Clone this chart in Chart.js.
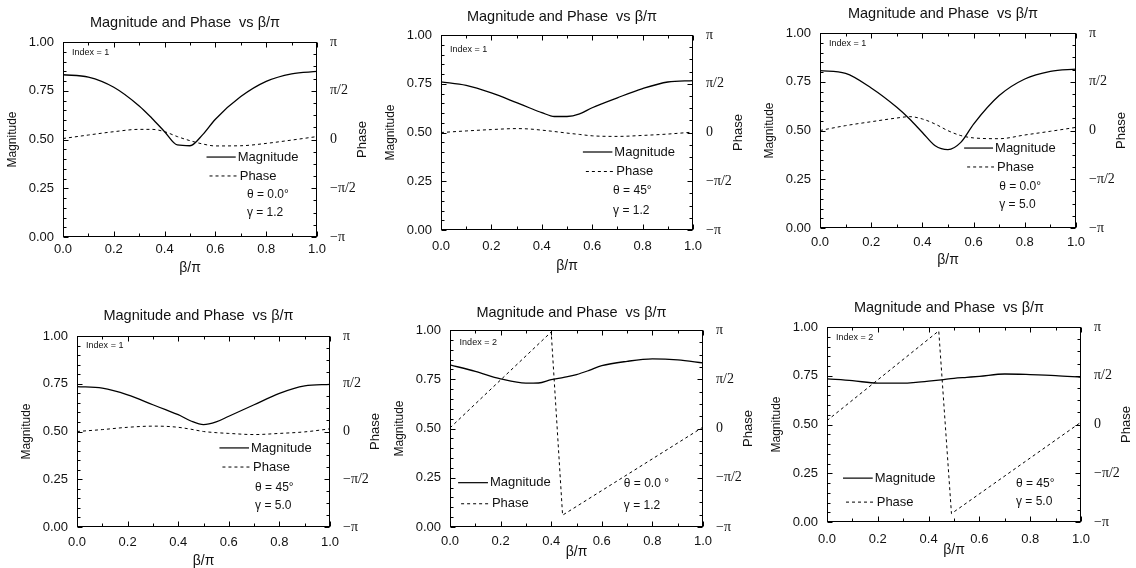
<!DOCTYPE html>
<html lang="en">
<head>
<meta charset="UTF-8">
<title>Magnitude and Phase vs β/π</title>
<script src="https://cdn.jsdelivr.net/npm/chart.js@4"></script>
<style>
  body { margin: 0; background: #fff; width: 1136px; height: 568px; overflow: hidden; position: relative; }
  canvas { position: absolute; }
</style>
</head>
<body>
<canvas id="p1"></canvas>
<canvas id="p2"></canvas>
<canvas id="p3"></canvas>
<canvas id="p4"></canvas>
<canvas id="p5"></canvas>
<canvas id="p6"></canvas>
<script>
// beta/pi sample points used for the magnitude curves (and the smooth phase curves)
const beta = [0, 0.1, 0.2, 0.3, 0.35, 0.4, 0.45, 0.5, 0.55, 0.6, 0.7, 0.8, 0.9, 1.0];

// panel A: index 1, theta 0.0, gamma 1.2 (phase in units of pi)
const magA   = [0.832, 0.820, 0.768, 0.672, 0.609, 0.540, 0.472, 0.468, 0.525, 0.604, 0.720, 0.798, 0.837, 0.849];
const phaseA = [0.010, 0.046, 0.080, 0.104, 0.104, 0.080, 0.030, -0.012, -0.046, -0.066, -0.064, -0.040, -0.006, 0.030];
// panel B: index 1, theta 45, gamma 1.2
const magB   = [0.760, 0.742, 0.703, 0.653, 0.627, 0.602, 0.582, 0.582, 0.595, 0.627, 0.678, 0.725, 0.759, 0.766];
const phaseB = [0.000, 0.016, 0.030, 0.040, 0.036, 0.024, 0.010, -0.006, -0.020, -0.034, -0.040, -0.030, -0.016, 0.004];
// panel C: index 1, theta 0.0, gamma 5.0
const magC   = [0.807, 0.793, 0.718, 0.619, 0.559, 0.490, 0.422, 0.402, 0.439, 0.533, 0.679, 0.764, 0.803, 0.815];
const phaseC = [0.000, 0.050, 0.090, 0.128, 0.142, 0.118, 0.066, -0.002, -0.052, -0.076, -0.084, -0.046, -0.008, 0.032];
// panel D: index 1, theta 45, gamma 5.0
const magD   = [0.735, 0.727, 0.692, 0.640, 0.614, 0.588, 0.555, 0.536, 0.550, 0.580, 0.640, 0.700, 0.739, 0.747];
const phaseD = [0.000, 0.020, 0.044, 0.056, 0.054, 0.044, 0.024, 0.000, -0.012, -0.020, -0.032, -0.020, -0.004, 0.028];
// panel E: index 2, theta 0.0, gamma 1.2 (phase wraps from +pi to -pi)
const magE   = [0.823, 0.790, 0.752, 0.730, 0.731, 0.748, 0.760, 0.774, 0.795, 0.819, 0.841, 0.853, 0.848, 0.833];
const phaseBetaE = [0, 0.4, 0.445, 1.0];
const phaseE     = [0.006, 0.980, -0.880, 0.014];
// panel F: index 2, theta 45, gamma 5.0
const magF   = [0.734, 0.725, 0.712, 0.712, 0.716, 0.722, 0.729, 0.737, 0.742, 0.747, 0.759, 0.756, 0.751, 0.742];
const phaseBetaF = [0, 0.44, 0.49, 1.0];
const phaseF     = [0.040, 0.960, -0.914, 0.024];

const phaseTickVals = [-1, -0.5, 0, 0.5, 1];
const phaseTickText = ['−π', '−π/2', '0', 'π/2', 'π'];

const SANS = '"Liberation Sans", Arial, Helvetica, sans-serif';
const SERIF = '"Liberation Serif", "Times New Roman", serif';
const INK = '#111';

const panels = [
  { id: 'p1', box: [63, 42, 317, 237], mag: magA, phaseX: beta, phase: phaseA, index: 'Index = 1', theta: 'θ = 0.0°', gamma: 'γ = 1.2',
    idx: [0.035, 0.944], lg: [0.565, 0.68, 0.41, 0.313], nt: [0.724, 0.215, 0.123], titleGap: 19, tickGap: 12, xtGap: 31 },
  { id: 'p2', box: [441, 35, 693, 230], mag: magB, phaseX: beta, phase: phaseB, index: 'Index = 1', theta: 'θ = 45°', gamma: 'γ = 1.2',
    idx: [0.036, 0.925], lg: [0.563, 0.68, 0.40, 0.30], nt: [0.683, 0.203, 0.10], titleGap: 18, tickGap: 16, xtGap: 36 },
  { id: 'p3', box: [820, 33, 1076, 228], mag: magC, phaseX: beta, phase: phaseC, index: 'Index = 1', theta: 'θ = 0.0°', gamma: 'γ = 5.0',
    idx: [0.035, 0.944], lg: [0.563, 0.676, 0.41, 0.313], nt: [0.70, 0.21, 0.118], titleGap: 19.5, tickGap: 14, xtGap: 32 },
  { id: 'p4', box: [77, 336, 330, 527], mag: magD, phaseX: beta, phase: phaseD, index: 'Index = 1', theta: 'θ = 45°', gamma: 'γ = 5.0',
    idx: [0.036, 0.949], lg: [0.563, 0.68, 0.414, 0.314], nt: [0.704, 0.204, 0.112], titleGap: 20.3, tickGap: 15, xtGap: 34 },
  { id: 'p5', box: [450, 330, 703, 527], mag: magE, phaseX: phaseBetaE, phase: phaseE, index: 'Index = 2', theta: 'θ = 0.0 °', gamma: 'γ = 1.2',
    idx: [0.038, 0.935], lg: [0.032, 0.15, 0.225, 0.118], nt: [0.687, 0.22, 0.11], titleGap: 16.7, tickGap: 13.4, xtGap: 25 },
  { id: 'p6', box: [827, 327, 1081, 522], mag: magF, phaseX: phaseBetaF, phase: phaseF, index: 'Index = 2', theta: 'θ = 45°', gamma: 'γ = 5.0',
    idx: [0.035, 0.947], lg: [0.063, 0.18, 0.225, 0.102], nt: [0.744, 0.196, 0.102], titleGap: 19, tickGap: 16.7, xtGap: 28.4 }
];

// frame round the plot plus small inward tick marks on all four sides
const frameTicks = {
  id: 'frameTicks',
  afterDatasetsDraw(chart) {
    const { ctx, chartArea: a, scales } = chart;
    const L = Math.round(a.left) + 0.5, R = Math.round(a.right) - 0.5;
    const T = Math.round(a.top) + 0.5, B = Math.round(a.bottom) - 0.5;
    ctx.save();
    ctx.strokeStyle = '#000';
    ctx.lineWidth = 1;
    ctx.strokeRect(L, T, R - L, B - T);
    ctx.beginPath();
    for (let i = 0; i <= 10; i++) {
      const px = Math.round(scales.x.getPixelForValue(i / 10)) + 0.5;
      const len = i % 2 ? 3 : 5;
      ctx.moveTo(px, B); ctx.lineTo(px, B - len);
      ctx.moveTo(px, T); ctx.lineTo(px, T + len);
    }
    for (let i = 0; i <= 20; i++) {
      const py = Math.round(scales.y.getPixelForValue(i / 20)) + 0.5;
      const len = i % 5 ? 3 : 5;
      ctx.moveTo(L, py); ctx.lineTo(L + len, py);
    }
    for (let i = 0; i <= 16; i++) {
      const py = Math.round(scales.y2.getPixelForValue(-1 + i / 8)) + 0.5;
      const len = i % 4 ? 3 : 5;
      ctx.moveTo(R, py); ctx.lineTo(R - len, py);
    }
    ctx.stroke();
    ctx.restore();
  }
};

function notesFor(p) {
  return {
    id: 'notes',
    afterDraw(chart) {
      const { ctx, chartArea: a, scales: { x, y } } = chart;
      ctx.save();
      ctx.fillStyle = INK;
      ctx.strokeStyle = '#000';
      ctx.textBaseline = 'middle';
      ctx.textAlign = 'left';

      ctx.font = '9px ' + SANS;
      ctx.fillText(p.index, x.getPixelForValue(p.idx[0]), y.getPixelForValue(p.idx[1]));

      const [x0, x1, ym, yp] = p.lg;
      const px0 = x.getPixelForValue(x0), px1 = x.getPixelForValue(x1);
      ctx.lineWidth = 1.2;
      ctx.beginPath();
      ctx.moveTo(px0, y.getPixelForValue(ym)); ctx.lineTo(px1, y.getPixelForValue(ym));
      ctx.stroke();
      ctx.lineWidth = 1;
      ctx.setLineDash([3, 3]);
      ctx.beginPath();
      ctx.moveTo(px0 + 3, y.getPixelForValue(yp)); ctx.lineTo(px1 + 1, y.getPixelForValue(yp));
      ctx.stroke();
      ctx.setLineDash([]);

      ctx.font = '13px ' + SANS;
      ctx.fillText('Magnitude', px1 + 2, y.getPixelForValue(ym));
      ctx.fillText('Phase', px1 + 4, y.getPixelForValue(yp));
      ctx.font = '12px ' + SANS;
      ctx.fillText(p.theta, x.getPixelForValue(p.nt[0]), y.getPixelForValue(p.nt[1]));
      ctx.fillText(p.gamma, x.getPixelForValue(p.nt[0]), y.getPixelForValue(p.nt[2]));

      // right axis title, reading bottom to top like the left one
      ctx.font = '13px ' + SANS;
      ctx.textAlign = 'center';
      ctx.translate(a.right + 45, (a.top + a.bottom) / 2);
      ctx.rotate(-Math.PI / 2);
      ctx.fillText('Phase', 0, 0);
      ctx.restore();
    }
  };
}

function makeChart(p) {
  const cv = document.getElementById(p.id);
  const L = 65, R = 55, T = 42, B = 48;
  const [l, t, r, b] = p.box;
  cv.width = r - l + L + R;
  cv.height = b - t + T + B;
  cv.style.left = (l - L) + 'px';
  cv.style.top = (t - T) + 'px';
  const tt = T - p.titleGap - 8.7;

  return new Chart(cv, {
    type: 'line',
    data: {
      datasets: [
        { label: 'Magnitude', data: beta.map((v, i) => ({ x: v, y: p.mag[i] })), yAxisID: 'y',
          borderColor: '#000', borderWidth: 1.3, pointRadius: 0, cubicInterpolationMode: 'monotone' },
        { label: 'Phase', data: p.phaseX.map((v, i) => ({ x: v, y: p.phase[i] })), yAxisID: 'y2',
          borderColor: '#000', borderWidth: 1, borderDash: [3, 3], pointRadius: 0,
          cubicInterpolationMode: p.phaseX === beta ? 'monotone' : 'default', tension: 0 }
      ]
    },
    options: {
      responsive: false,
      animation: false,
      events: [],
      layout: { padding: 0 },
      plugins: {
        legend: { display: false },
        tooltip: { enabled: false },
        title: {
          display: true, text: 'Magnitude and Phase  vs β/π', color: INK,
          font: { family: SANS, size: 14.5, weight: 'normal' },
          padding: { top: tt, bottom: T - 17.4 - tt }
        }
      },
      scales: {
        x: {
          type: 'linear', min: 0, max: 1, position: 'bottom',
          grid: { display: false, drawTicks: false }, border: { display: false },
          ticks: { stepSize: 0.2, color: INK, font: { family: SANS, size: 13 }, padding: p.tickGap - 7,
                   maxRotation: 0, callback: v => v.toFixed(1) },
          title: { display: true, text: 'β/π', color: INK, font: { family: SANS, size: 14 },
                   padding: { top: 0, bottom: B - 8.4 - p.xtGap } },
          afterFit: s => { s.height = B; }
        },
        y: {
          type: 'linear', min: 0, max: 1, position: 'left',
          grid: { display: false, drawTicks: false }, border: { display: false },
          ticks: { stepSize: 0.25, color: INK, font: { family: SANS, size: 13 }, padding: 9,
                   callback: v => v.toFixed(2) },
          title: { display: true, text: 'Magnitude', color: INK, font: { family: SANS, size: 12 },
                   padding: { top: 7.8, bottom: 0 } },
          afterFit: s => { s.width = L; }
        },
        y2: {
          type: 'linear', min: -1, max: 1, position: 'right',
          grid: { display: false, drawTicks: false }, border: { display: false },
          ticks: { stepSize: 0.5, color: INK, font: { family: SERIF, size: 14 }, padding: 13,
                   callback: v => phaseTickText[phaseTickVals.indexOf(v)] },
          afterFit: s => { s.width = R; }
        }
      }
    },
    plugins: [frameTicks, notesFor(p)]
  });
}

panels.forEach(makeChart);
</script>
</body>
</html>
